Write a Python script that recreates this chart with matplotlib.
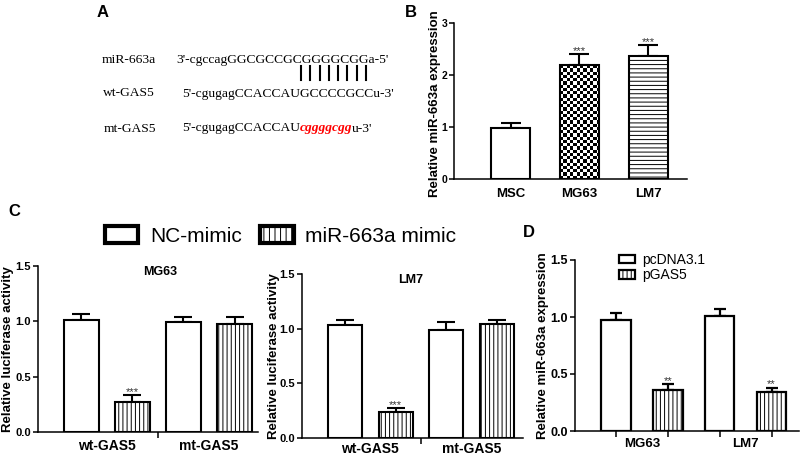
import numpy as np
import matplotlib
matplotlib.use('Agg')
import matplotlib.pyplot as plt
from matplotlib.patches import Patch

plt.rcParams['font.family'] = ['Liberation Sans', 'DejaVu Sans']
plt.rcParams['hatch.linewidth'] = 0.7

W, H = 800, 458

# panel A sequences
seq_names = ['miR-663a', 'wt-GAS5', 'mt-GAS5']
seq_mir = "3'-cgccagGGCGCCGCGGGGCGGa-5'"
seq_wt = "5'-cgugagCCACCAUGCCCCGCCu-3'"
seq_mt_head = "5'-cgugagCCACCAU"
seq_mt_mut = "cggggcgg"
seq_mt_tail = "u-3'"
n_pairs = 8

# panel B
b_cells = ['MSC', 'MG63', 'LM7']
b_mean = [0.98, 2.18, 2.36]
b_err = [0.10, 0.21, 0.21]
b_sig = ['', '***', '***']

# panel C
c_groups = ['wt-GAS5', 'mt-GAS5']
c_legend = ['NC-mimic', 'miR-663a mimic']
c_mg63_mean = [1.01, 0.27, 0.99, 0.98]
c_mg63_err = [0.06, 0.06, 0.05, 0.06]
c_lm7_mean = [1.03, 0.24, 0.99, 1.04]
c_lm7_err = [0.05, 0.03, 0.07, 0.04]
c_sig = ['', '***', '', '']

# panel D
d_cells = ['MG63', 'LM7']
d_legend = ['pcDNA3.1', 'pGAS5']
d_mean = [0.97, 0.36, 1.01, 0.34]
d_err = [0.065, 0.05, 0.06, 0.04]
d_sig = ['', '**', '', '**']


def box(l, r, t, b):
    return [l / W, 1 - b / H, (r - l) / W, (b - t) / H]


def style(ax, lw=1.1):
    for s in ['top', 'right']:
        ax.spines[s].set_visible(False)
    for s in ['left', 'bottom']:
        ax.spines[s].set_linewidth(lw)
    ax.tick_params(axis='y', width=lw, length=3.5, pad=1.5)


def draw_bars(ax, mean, err, width, hatches, sig, lw, cap, starsize=8):
    x = np.arange(len(mean))
    bs = ax.bar(x, mean, width, color='white', edgecolor='black', linewidth=lw, zorder=2)
    for b, h in zip(bs, hatches):
        if h:
            b.set_hatch(h)
    ax.errorbar(x, mean, yerr=[np.zeros(len(mean)), err], fmt='none', ecolor='black',
                elinewidth=lw, capsize=cap, capthick=lw, zorder=1)
    for xi, m, e, s in zip(x, mean, err, sig):
        if s:
            ax.annotate(s, (xi, m + e), xytext=(0, 2.5), textcoords='offset points',
                        ha='center', va='center', fontsize=starsize, color='#333333')
    return bs


fig = plt.figure(figsize=(8, 4.58), dpi=100)

# ---------------- panel A ----------------
serif = 'Liberation Serif'
fs_a = 9.7
fig.text(97 / W, 1 - 17 / H, 'A', fontsize=12, fontweight='bold')
ys = [63, 96.5, 131.5]
xs_name = [101.7, 102.7, 103.3]
for nm, xx, yy in zip(seq_names, xs_name, ys):
    fig.text(xx / W, 1 - yy / H, nm, fontsize=fs_a, family=serif, va='baseline')
fig.text(176.7 / W, 1 - ys[0] / H, seq_mir, fontsize=fs_a, family=serif, va='baseline')
fig.text(181.7 / W, 1 - ys[1] / H, seq_wt, fontsize=fs_a, family=serif, va='baseline')
t1 = fig.text(181.7 / W, 1 - ys[2] / H, seq_mt_head, fontsize=fs_a, family=serif, va='baseline')
rend = fig.canvas.get_renderer()
x1 = t1.get_window_extent(rend).x1
t2 = fig.text(x1 / W, 1 - ys[2] / H, seq_mt_mut, fontsize=fs_a, family=serif, va='baseline',
              color='red', style='italic', fontweight='bold')
x2 = t2.get_window_extent(rend).x1
fig.text(x2 / W, 1 - ys[2] / H, seq_mt_tail, fontsize=fs_a, family=serif, va='baseline')
for xp in np.linspace(301, 366, n_pairs):
    fig.add_artist(plt.Line2D([xp / W, xp / W], [1 - 66 / H, 1 - 80 / H], color='black', lw=1.5))

# ---------------- panel B ----------------
fig.text(405 / W, 1 - 17 / H, 'B', fontsize=12, fontweight='bold')
axb = fig.add_axes(box(454, 687, 22.7, 179))
style(axb)
bb = draw_bars(axb, b_mean, b_err, 0.57, ['', '', '----'], b_sig, 1.5, 7.5)
axb.set_xlim(-0.82, 2.56)
axb.set_ylim(0, 3)
# checkerboard fill for MG63
fig.canvas.draw()
pb = bb[1]
pbb = pb.get_window_extent(rend)
nx = 12
ny = int(round(nx * pbb.height / pbb.width))
checker = (np.add.outer(np.arange(ny), np.arange(nx)) % 2).astype(float)
im = axb.imshow(checker, cmap='gray', interpolation='nearest', aspect='auto',
                extent=[pb.get_x(), pb.get_x() + pb.get_width(), 0, pb.get_height()],
                zorder=1.5, clip_path=pb, clip_on=True)
pb.set_facecolor('none')
axb.set_xlim(-0.82, 2.56)
axb.set_ylim(0, 3)
axb.set_yticks([0, 1, 2, 3])
axb.set_xticks(range(3))
axb.set_xticklabels(b_cells)
axb.tick_params(axis='x', length=0, pad=6.5, labelsize=9.5)
axb.tick_params(axis='y', labelsize=7.5)
for t in axb.get_xticklabels() + axb.get_yticklabels():
    t.set_fontweight('bold')
axb.set_ylabel('Relative miR-663a expression', fontsize=9.5, fontweight='bold', va='center')
axb.yaxis.set_label_coords((435 - 454) / 233, 0.48)

# ---------------- panel C ----------------
fig.text(8 / W, 1 - 216 / H, 'C', fontsize=12, fontweight='bold')
c_hatch = ['', '||||', '', '||||']
specs = [(box(38, 258, 266, 432), c_mg63_mean, c_mg63_err, 0.69, (-0.85, 3.46), 'MG63', 1.54, 8, 5),
         (box(302, 523, 274, 438), c_lm7_mean, c_lm7_err, 0.67, (-0.85, 3.52), 'LM7', 1.29, 274, 3)]
for rect, mean, err, wd, xl, title, tx, lab, xpad in specs:
    ax = fig.add_axes(rect)
    style(ax)
    draw_bars(ax, mean, err, wd, c_hatch, c_sig, 1.5, 6.2)
    ax.set_xlim(*xl)
    ax.set_ylim(0, 1.5)
    ax.set_yticks([0, 0.5, 1.0, 1.5])
    ax.set_yticklabels(['0.0', '0.5', '1.0', '1.5'])
    ax.set_xticks([1.5])
    ax.set_xticklabels([''])
    ax.set_xticks([0.5, 2.5], minor=True)
    ax.set_xticklabels(c_groups, minor=True)
    ax.tick_params(axis='x', which='major', length=4, width=1.1)
    ax.tick_params(axis='x', which='minor', length=0, pad=xpad, labelsize=10)
    ax.tick_params(axis='y', labelsize=8)
    for t in ax.get_xticklabels(minor=True) + ax.get_yticklabels():
        t.set_fontweight('bold')
    ax.text(tx, 1.445, title, ha='center', va='center', fontsize=9, fontweight='bold')
    ax.set_ylabel('Relative luciferase activity', fontsize=9.5, fontweight='bold', va='center')
    left = rect[0] * W
    ax.yaxis.set_label_coords((lab - left) / (rect[2] * W), 0.5)

handles = [Patch(facecolor='white', edgecolor='black', lw=3),
           Patch(facecolor='white', edgecolor='black', lw=3, hatch='|||')]
fig.legend(handles, c_legend, loc='center left', bbox_to_anchor=(105 / W, 1 - 236 / H),
           ncol=2, frameon=False, fontsize=15, handlelength=1.6, handleheight=0.85,
           handletextpad=0.55, columnspacing=0.9, borderpad=0, borderaxespad=0)

# ---------------- panel D ----------------
fig.text(523 / W, 1 - 237 / H, 'D', fontsize=12, fontweight='bold')
axd = fig.add_axes(box(575, 799, 260, 431))
style(axd)
dbars = draw_bars(axd, d_mean, d_err, 0.57, ['', '||||', '', '||||'], d_sig, 1.6, 4.5)
axd.set_xlim(-0.79, 3.53)
axd.set_ylim(0, 1.5)
axd.set_yticks([0, 0.5, 1.0, 1.5])
axd.set_yticklabels(['0.0', '0.5', '1.0', '1.5'])
axd.set_xticks(range(4))
axd.set_xticklabels([''] * 4)
axd.set_xticks([0.5, 2.5], minor=True)
axd.set_xticklabels(d_cells, minor=True)
axd.tick_params(axis='x', which='major', length=4, width=1.1)
axd.tick_params(axis='x', which='minor', length=0, pad=5, labelsize=9.5)
axd.tick_params(axis='y', labelsize=9)
for t in axd.get_xticklabels(minor=True) + axd.get_yticklabels():
    t.set_fontweight('bold')
axd.set_ylabel('Relative miR-663a expression', fontsize=9.5, fontweight='bold', va='center')
axd.yaxis.set_label_coords((543 - 575) / 224, 0.5)
axd.legend([dbars[0], dbars[1]], d_legend, loc='upper left', bbox_to_anchor=(619 / W, 1 - 253 / H),
           bbox_transform=fig.transFigure, frameon=False, fontsize=10, handlelength=1.15,
           handleheight=0.55, handletextpad=0.5, labelspacing=0.1, borderpad=0, borderaxespad=0)

fig.savefig('out.png', dpi=100)
